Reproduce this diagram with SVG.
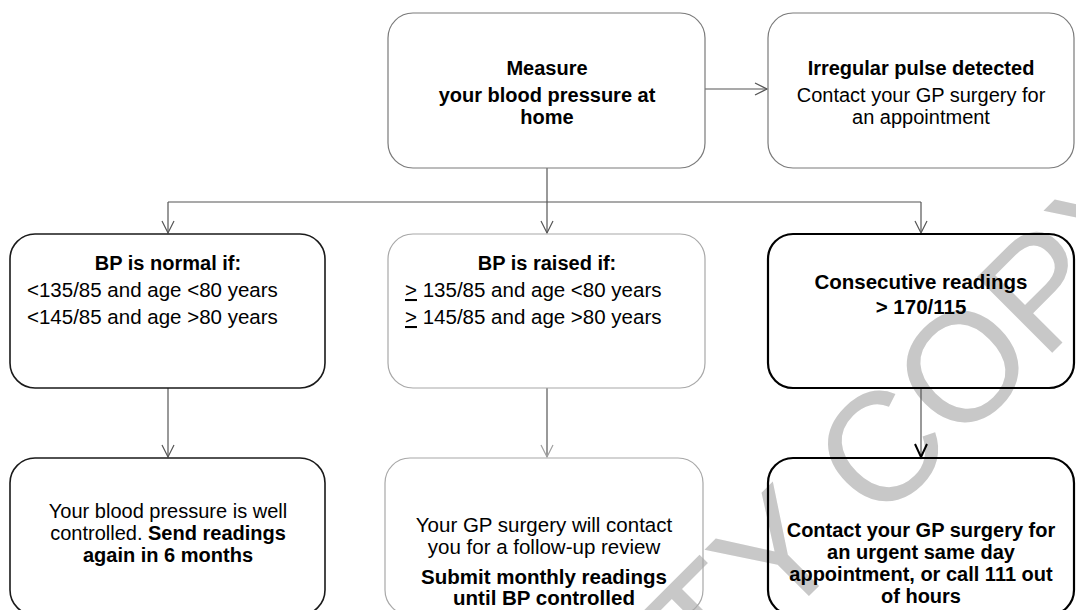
<svg xmlns="http://www.w3.org/2000/svg" width="1076" height="610" viewBox="0 0 1076 610">
<style>
  text { font-family: "Liberation Sans", Arial, sans-serif; font-size: 20px; fill: #000; }
  .b { font-weight: bold; }
  .big { font-size: 20.5px; }
  .box { fill: none; }
  .grey { stroke: #7a7a7a; stroke-width: 1.2; }
  .light { stroke: #a8a8a8; stroke-width: 1.2; }
  .dark { stroke: #1a1a1a; stroke-width: 1.6; }
  .heavy { stroke: #000; stroke-width: 2.2; }
  .conn { fill: none; stroke: #555; stroke-width: 1.2; }
  .wm { font-size: 155px; fill: #c8c8c8; }
</style>
<defs>
  <marker id="arr" markerUnits="userSpaceOnUse" markerWidth="20" markerHeight="20" refX="0" refY="0" orient="auto" overflow="visible">
    <path d="M-12,-6 L0,0 L-12,6" fill="none" stroke="#555" stroke-width="1.2"/>
  </marker>
  <marker id="arrL" markerUnits="userSpaceOnUse" markerWidth="20" markerHeight="20" refX="0" refY="0" orient="auto" overflow="visible">
    <path d="M-12,-6 L0,0 L-12,6" fill="none" stroke="#a0a0a0" stroke-width="1.2"/>
  </marker>
  <marker id="arrH" markerUnits="userSpaceOnUse" markerWidth="20" markerHeight="20" refX="0" refY="0" orient="auto" overflow="visible">
    <path d="M-13,-6 L0,0 L-13,6" fill="none" stroke="#000" stroke-width="2"/>
  </marker>
</defs>
<rect width="1076" height="610" fill="#fff"/>
<text class="wm" text-anchor="middle" transform="translate(950,455) rotate(-45)">TY COPY</text>

<g id="connectors">
  <line class="conn" x1="705" y1="89" x2="767" y2="89" stroke="#888" marker-end="url(#arr)"/>
  <polyline class="conn" points="547,168 547,202"/>
  <line class="conn" x1="168" y1="202" x2="921" y2="202"/>
  <line class="conn" x1="168" y1="202" x2="168" y2="233" marker-end="url(#arr)"/>
  <line class="conn" x1="547" y1="202" x2="547" y2="233" marker-end="url(#arr)"/>
  <line class="conn" x1="921" y1="202" x2="921" y2="233" marker-end="url(#arr)"/>
  <line class="conn" x1="168" y1="388" x2="168" y2="457" stroke="#333" marker-end="url(#arr)"/>
  <line class="conn" x1="547" y1="388" x2="547" y2="457" stroke="#a0a0a0" marker-end="url(#arrL)"/>
  <line class="conn" x1="921" y1="388" x2="921" y2="457" stroke="#000" stroke-width="2" marker-end="url(#arrH)"/>
</g>

<g id="measure">
  <rect class="box grey" x="388" y="13" width="317" height="155" rx="25"/>
  <text class="b" x="547" y="75" text-anchor="middle">Measure</text>
  <text class="b" x="547" y="102" text-anchor="middle">your blood pressure at</text>
  <text class="b" x="547" y="124" text-anchor="middle">home</text>
</g>

<g id="irregular">
  <rect class="box grey" x="768" y="13" width="306" height="155" rx="25"/>
  <text class="b" x="921" y="75" text-anchor="middle">Irregular pulse detected</text>
  <text x="921" y="102" text-anchor="middle">Contact your GP surgery for</text>
  <text x="921" y="124" text-anchor="middle">an appointment</text>
</g>

<g id="normal">
  <rect class="box dark" x="10" y="234" width="315" height="154" rx="25"/>
  <text class="b" x="168" y="270" text-anchor="middle">BP is normal if:</text>
  <text class="big" x="27" y="297">&lt;135/85 and age &lt;80 years</text>
  <text class="big" x="27" y="324">&lt;145/85 and age &gt;80 years</text>
</g>

<g id="raised">
  <rect class="box light" x="388" y="234" width="317" height="154" rx="25"/>
  <text class="b" x="547" y="270" text-anchor="middle">BP is raised if:</text>
  <text class="big" x="405" y="297"><tspan text-decoration="underline">&gt;</tspan> 135/85 and age &lt;80 years</text>
  <text class="big" x="405" y="324"><tspan text-decoration="underline">&gt;</tspan> 145/85 and age &gt;80 years</text>
</g>

<g id="consecutive">
  <rect class="box heavy" x="768" y="234" width="306" height="154" rx="25"/>
  <text class="b big" x="921" y="289" text-anchor="middle">Consecutive readings</text>
  <text class="b big" x="921" y="314" text-anchor="middle">&gt; 170/115</text>
</g>

<g id="controlled">
  <rect class="box dark" x="10" y="458" width="315" height="157" rx="25"/>
  <text x="168" y="518" text-anchor="middle">Your blood pressure is well</text>
  <text x="168" y="540" text-anchor="middle">controlled. <tspan class="b">Send readings</tspan></text>
  <text class="b" x="168" y="562" text-anchor="middle">again in 6 months</text>
</g>

<g id="followup">
  <rect class="box light" x="385" y="458" width="318" height="157" rx="25"/>
  <text class="big" x="544" y="532" text-anchor="middle">Your GP surgery will contact</text>
  <text class="big" x="544" y="554" text-anchor="middle">you for a follow-up review</text>
  <text class="b big" x="544" y="584" text-anchor="middle">Submit monthly readings</text>
  <text class="b big" x="544" y="605" text-anchor="middle">until BP controlled</text>
</g>

<g id="urgent">
  <rect class="box heavy" x="768" y="458" width="306" height="157" rx="25"/>
  <text class="b" x="921" y="537" text-anchor="middle" font-size="21">Contact your GP surgery for</text>
  <text class="b" x="921" y="559" text-anchor="middle" font-size="21">an urgent same day</text>
  <text class="b" x="921" y="581" text-anchor="middle" font-size="21">appointment, or call 111 out</text>
  <text class="b" x="921" y="603" text-anchor="middle" font-size="21">of hours</text>
</g>
</svg>
